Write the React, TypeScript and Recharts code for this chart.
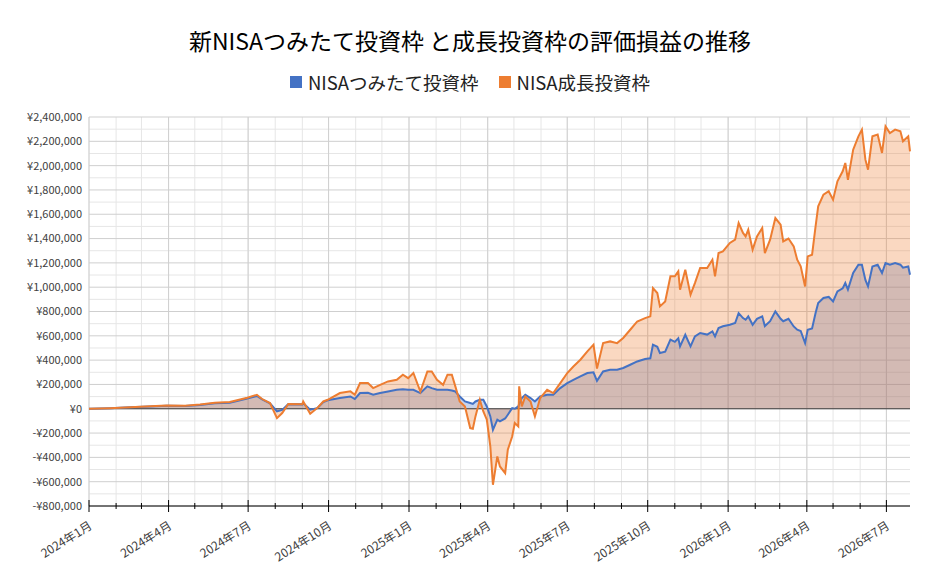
import React from "react";
import {
  Area,
  CartesianGrid,
  ComposedChart,
  Line,
  ReferenceLine,
  XAxis,
  YAxis,
} from "recharts";

// 評価損益 (円) — 読み取り値
const dates = [
  "2024-01-01", "2024-01-25", "2024-02-17", "2024-03-11", "2024-03-30", "2024-04-20",
  "2024-05-07", "2024-05-24", "2024-06-10", "2024-06-30", "2024-07-11", "2024-07-17",
  "2024-07-26", "2024-08-03", "2024-08-09", "2024-08-16", "2024-09-01", "2024-09-02",
  "2024-09-10", "2024-09-18", "2024-09-25", "2024-09-30", "2024-10-14", "2024-10-26",
  "2024-10-31", "2024-11-06", "2024-11-15", "2024-11-21", "2024-11-29", "2024-12-08",
  "2024-12-18", "2024-12-25", "2024-12-31", "2025-01-06", "2025-01-14", "2025-01-22",
  "2025-01-27", "2025-02-02", "2025-02-09", "2025-02-14", "2025-02-19", "2025-02-23",
  "2025-02-28", "2025-03-06", "2025-03-12", "2025-03-15", "2025-03-18", "2025-03-23",
  "2025-03-27", "2025-03-31", "2025-04-04", "2025-04-07", "2025-04-12", "2025-04-15",
  "2025-04-21", "2025-04-24", "2025-04-29", "2025-05-02", "2025-05-06", "2025-05-07",
  "2025-05-10", "2025-05-14", "2025-05-20", "2025-05-25", "2025-05-31", "2025-06-08",
  "2025-06-15", "2025-06-23", "2025-07-01", "2025-07-08", "2025-07-16", "2025-07-24",
  "2025-07-31", "2025-08-04", "2025-08-11", "2025-08-19", "2025-08-27", "2025-09-03",
  "2025-09-11", "2025-09-19", "2025-09-28", "2025-10-04", "2025-10-07", "2025-10-12",
  "2025-10-15", "2025-10-21", "2025-10-27", "2025-11-01", "2025-11-05", "2025-11-07",
  "2025-11-13", "2025-11-19", "2025-11-24", "2025-11-30", "2025-12-08", "2025-12-14",
  "2025-12-17", "2025-12-21", "2025-12-26", "2026-01-03", "2026-01-09", "2026-01-13",
  "2026-01-18", "2026-01-21", "2026-01-24", "2026-01-29", "2026-02-03", "2026-02-09",
  "2026-02-12", "2026-02-18", "2026-02-24", "2026-03-02", "2026-03-05", "2026-03-11",
  "2026-03-17", "2026-03-21", "2026-03-25", "2026-03-30", "2026-04-02", "2026-04-07",
  "2026-04-11", "2026-04-14", "2026-04-20", "2026-04-26", "2026-05-01", "2026-05-06",
  "2026-05-12", "2026-05-15", "2026-05-18", "2026-05-24", "2026-05-30", "2026-06-03",
  "2026-06-07", "2026-06-10", "2026-06-15", "2026-06-21", "2026-06-26", "2026-06-30",
  "2026-07-05", "2026-07-11", "2026-07-17", "2026-07-20", "2026-07-26", "2026-07-28",
];

const tsumitate = [
  0, 5000, 12000, 18000, 25000, 22000,
  30000, 45000, 50000, 85000, 105000, 78000,
  45000, -22000, -10000, 38000, 36000, 45000,
  -8000, 5000, 55000, 70000, 88000, 101000,
  80000, 129000, 132000, 115000, 129000, 142000,
  156000, 160000, 156000, 156000, 129000, 184000,
  170000, 156000, 156000, 156000, 150000, 142000,
  101000, 60000, 47000, 40000, 60000, 74000,
  74000, 19000, -63000, -173000, -90000, -104000,
  -80000, -49000, 5000, 0, 20000, 40000,
  88000, 115000, 88000, 60000, 101000, 115000,
  115000, 170000, 211000, 238000, 266000, 294000,
  300000, 230000, 307000, 321000, 321000, 335000,
  362000, 389000, 409000, 415000, 527000, 510000,
  458000, 470000, 568000, 550000, 580000, 513000,
  609000, 513000, 595000, 623000, 610000, 637000,
  595000, 664000, 678000, 691000, 705000, 787000,
  746000, 732000, 760000, 691000, 740000, 760000,
  680000, 720000, 801000, 740000, 720000, 740000,
  677000, 650000, 640000, 540000, 650000, 660000,
  787000, 870000, 911000, 920000, 883000, 965000,
  990000, 1034000, 980000, 1117000, 1185000, 1185000,
  1060000, 1006000, 1170000, 1185000, 1117000, 1199000,
  1185000, 1199000, 1185000, 1160000, 1170000, 1103000,
];

const seichou = [
  0, 5000, 12000, 20000, 27000, 25000,
  35000, 50000, 55000, 90000, 115000, 80000,
  47000, -77000, -35000, 40000, 38000, 60000,
  -41000, 5000, 60000, 74000, 129000, 143000,
  115000, 211000, 211000, 170000, 197000, 225000,
  238000, 280000, 252000, 294000, 142000, 307000,
  307000, 238000, 197000, 280000, 280000, 184000,
  60000, 19000, -159000, -165000, -63000, 74000,
  -22000, -90000, -310000, -625000, -392000, -475000,
  -530000, -337000, -228000, -118000, -146000, 184000,
  19000, 101000, 60000, -63000, 88000, 156000,
  129000, 211000, 294000, 348000, 403000, 472000,
  527000, 330000, 540000, 554000, 540000, 582000,
  650000, 718000, 746000, 760000, 993000, 952000,
  842000, 883000, 1089000, 1089000, 1130000, 979000,
  1144000, 938000, 1034000, 1158000, 1158000, 1226000,
  1089000, 1281000, 1295000, 1364000, 1391000, 1528000,
  1446000, 1418000, 1473000, 1309000, 1418000, 1487000,
  1281000, 1391000, 1569000, 1514000, 1377000, 1400000,
  1336000, 1226000, 1171000, 1006000, 1253000, 1267000,
  1500000, 1665000, 1761000, 1789000, 1720000, 1871000,
  1953000, 2022000, 1884000, 2131000, 2241000, 2296000,
  2049000, 1967000, 2241000, 2255000, 2104000, 2323000,
  2268000, 2296000, 2282000, 2200000, 2241000, 2118000,
];

const yTicks = [
  -800000, -600000, -400000, -200000, 0, 200000, 400000, 600000, 800000,
  1000000, 1200000, 1400000, 1600000, 1800000, 2000000, 2200000, 2400000,
];

const BLUE = "#4472C4";
const ORANGE = "#ED7D31";

const data = dates.map((d, i) => ({
  t: Date.parse(d),
  tsumitate: tsumitate[i],
  seichou: seichou[i],
}));

const start = Date.UTC(2024, 0, 1);
const end = Date.parse("2026-07-28");

const monthTicks: number[] = [];
for (let m = 0; m < 31; m++) monthTicks.push(Date.UTC(2024, m, 1));
const quarterTicks = monthTicks.filter((t) => new Date(t).getUTCMonth() % 3 === 0);

const minorY: number[] = [];
for (let v = -700000; v < 2400000; v += 200000) minorY.push(v);

const yen = (v: number) => {
  const s = Math.abs(v).toString().replace(/\B(?=(\d{3})+(?!\d))/g, ",");
  return v < 0 ? `-¥${s}` : `¥${s}`;
};

const FONT = "'Noto Sans CJK JP', 'Noto Sans', sans-serif";

function MonthTick({ x, y, payload }: any) {
  const d = new Date(payload.value);
  const major = d.getUTCMonth() % 3 === 0;
  const lx = x + 4;
  const ly = y + 22;
  return (
    <g>
      <line
        x1={x}
        x2={x}
        y1={major ? y - 6 : y - 3}
        y2={major ? y + 6 : y + 3}
        stroke="#000"
        strokeWidth={1}
      />
      {major && (
        <text
          x={lx}
          y={ly}
          textAnchor="end"
          fontSize={12}
          fill="#404040"
          fontFamily={FONT}
          transform={`rotate(-32 ${lx} ${ly})`}
        >
          {`${d.getUTCFullYear()}年${d.getUTCMonth() + 1}月`}
        </text>
      )}
    </g>
  );
}

export default function App() {
  return (
    <div
      style={{
        position: "absolute",
        left: 0,
        top: 0,
        width: 940,
        height: 583,
        background: "#fff",
        fontFamily: FONT,
      }}
    >
      <div
        style={{
          position: "absolute",
          top: 23,
          width: 940,
          textAlign: "center",
          fontSize: 23,
          color: "#000",
        }}
      >
        新NISAつみたて投資枠 と成長投資枠の評価損益の推移
      </div>
      <div
        style={{
          position: "absolute",
          top: 69,
          width: 940,
          display: "flex",
          justifyContent: "center",
          alignItems: "center",
          fontSize: 18.5,
          color: "#222",
        }}
      >
        <span style={{ width: 12, height: 12, background: BLUE, marginRight: 6 }} />
        <span style={{ marginRight: 20 }}>NISAつみたて投資枠</span>
        <span style={{ width: 12, height: 12, background: ORANGE, marginRight: 6 }} />
        <span>NISA成長投資枠</span>
      </div>
      <ComposedChart
        width={940}
        height={583}
        data={data}
        margin={{ top: 117, right: 30, bottom: 0, left: 0 }}
        style={{ position: "absolute", left: 0, top: 0 }}
      >
        <CartesianGrid
          stroke="#E6E6E6"
          horizontalValues={minorY}
          verticalValues={monthTicks}
        />
        <CartesianGrid
          stroke="#CFCFCF"
          horizontalValues={yTicks}
          verticalValues={quarterTicks}
        />
        <XAxis
          type="number"
          dataKey="t"
          domain={[start, end]}
          ticks={monthTicks}
          interval={0}
          tickLine={false}
          tickSize={0}
          tickMargin={0}
          axisLine={{ stroke: "#000" }}
          tick={<MonthTick />}
          height={77}
        />
        <YAxis
          type="number"
          domain={[-800000, 2400000]}
          ticks={yTicks}
          interval={0}
          tickFormatter={yen}
          tickLine={false}
          axisLine={false}
          tickSize={5}
          tickMargin={2}
          width={89}
          tick={{ fontSize: 11, fill: "#404040", fontFamily: FONT }}
        />
        <Area
          type="linear"
          dataKey="tsumitate"
          stroke="none"
          fill={BLUE}
          fillOpacity={0.3}
          baseValue={0}
          dot={false}
          activeDot={false}
          isAnimationActive={false}
        />
        <Area
          type="linear"
          dataKey="seichou"
          stroke="none"
          fill={ORANGE}
          fillOpacity={0.3}
          baseValue={0}
          dot={false}
          activeDot={false}
          isAnimationActive={false}
        />
        <ReferenceLine y={0} stroke="#404040" strokeWidth={1} />
        <Line
          type="linear"
          dataKey="tsumitate"
          stroke={BLUE}
          strokeWidth={2}
          dot={false}
          activeDot={false}
          isAnimationActive={false}
        />
        <Line
          type="linear"
          dataKey="seichou"
          stroke={ORANGE}
          strokeWidth={2}
          dot={false}
          activeDot={false}
          isAnimationActive={false}
        />
      </ComposedChart>
    </div>
  );
}
